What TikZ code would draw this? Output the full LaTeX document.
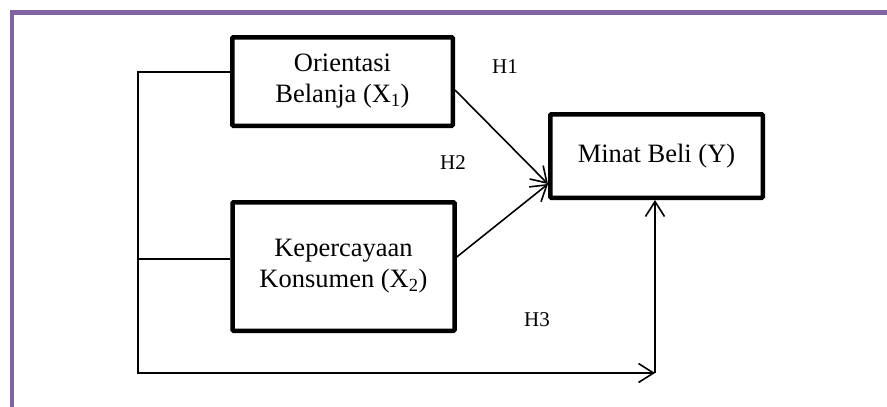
\documentclass[tikz,border=0pt]{standalone}
\usepackage{fontspec}
\setmainfont{Liberation Serif}
\usepackage{tikz}
\usetikzlibrary{arrows.meta}
\definecolor{framepurple}{HTML}{8064A2}
\tikzset{
  var/.style={draw,line width=4.5pt,rounded corners=1pt,align=center,font=\fontsize{26.5}{31}\selectfont},
  link/.style={line width=1.6pt},
  arr/.style={link,-{Straight Barb[length=15pt,width=19pt,line width=1.6pt]}},
  hyp/.style={font=\fontsize{21}{25}\selectfont}
}

\begin{document}
\begin{tikzpicture}[x=1pt,y=-1pt]
\useasboundingbox (0,0) rectangle (887,407);
\draw[framepurple,line width=4.5pt] (12,407) -- (12,12.5) -- (887,12.5);
\node[var,minimum width=220.5pt,minimum height=88.5pt] (x1) at (342.5,81.5) {Orientasi\\Belanja (X\textsubscript{1})};
\node[var,minimum width=222pt,minimum height=128.5pt] (x2) at (343.5,266.5) {Kepercayaan\\Konsumen (X\textsubscript{2})};
\node[var,minimum width=212.5pt,minimum height=83.5pt] (y) at (656.5,156) {Minat Beli (Y)};
\coordinate (a1) at (138,72);
\coordinate (a2) at (138,259);
\coordinate (a3) at (138,373);
\coordinate (c3) at (655,373);
\draw[arr] (x1.west |- a1) -- (a1) -- (a3) -- (c3);
\draw[link] (x2.west |- a2) -- (a2);
\draw[arr] (c3) -- (y.south -| c3);
\draw[arr] ([yshift=-8.5pt]x1.east) -- ([yshift=-28pt]y.west);
\draw[arr] ([yshift=9.5pt]x2.east) -- ([yshift=-28pt]y.west);
\node[hyp] (h1) at (505,67) {H1};
\node[hyp] (h2) at (453,163) {H2};
\node[hyp] (h3) at (537,320) {H3};
\end{tikzpicture}
\end{document}
